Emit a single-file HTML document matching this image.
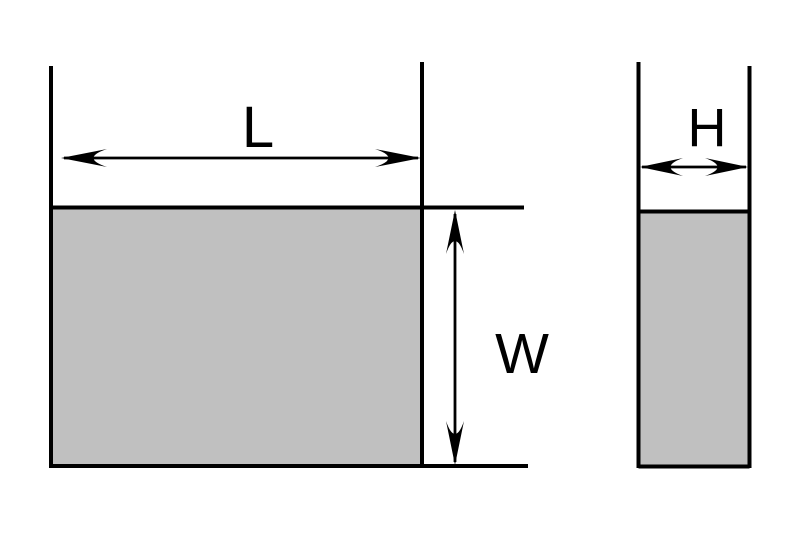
<!DOCTYPE html>
<html><head><meta charset="utf-8"><style>
html,body{margin:0;padding:0;background:#fff;width:800px;height:533px;overflow:hidden}
svg{display:block}
text{font-family:"Liberation Sans",sans-serif;fill:#000}
</style></head><body>
<svg width="800" height="533" viewBox="0 0 800 533" xmlns="http://www.w3.org/2000/svg">
<rect x="52" y="208" width="370" height="258" fill="#c0c0c0"/>
<rect x="639" y="212" width="110" height="255" fill="#c0c0c0"/>
<g stroke="#000" stroke-width="4" fill="none">
<line x1="51" y1="66" x2="51" y2="468"/>
<line x1="422" y1="62" x2="422" y2="468"/>
<line x1="51" y1="207.5" x2="524" y2="207.5"/>
<line x1="51" y1="466" x2="528" y2="466"/>
<line x1="638.5" y1="62" x2="638.5" y2="468"/>
<line x1="749.5" y1="66" x2="749.5" y2="468"/>
<line x1="638.5" y1="211.5" x2="749.5" y2="211.5"/>
<line x1="638.5" y1="466.5" x2="749.5" y2="466.5"/>
</g>
<g stroke="#000" stroke-width="2.8">
<line x1="64" y1="158" x2="418" y2="158"/>
<line x1="455" y1="214" x2="455" y2="462"/>
<line x1="642" y1="167" x2="746" y2="167"/>
</g>
<g fill="#000">
<path d="M61,158 L107,149 Q80,158 107,167 Z"/>
<path d="M421,158 L375,149 Q402,158 375,167 Z"/>
<path d="M455,210 L446,254 Q455,228 464,254 Z"/>
<path d="M455,465 L446,421 Q455,447 464,421 Z"/>
<path d="M640,167 L683,158 Q658,167 683,176 Z"/>
<path d="M748,167 L705,158 Q730,167 705,176 Z"/>
</g>
<text x="258" y="147" font-size="58" text-anchor="middle">L</text>
<text x="522" y="373" font-size="57" text-anchor="middle">W</text>
<text x="707" y="146" font-size="54" text-anchor="middle">H</text>
</svg>
</body></html>
